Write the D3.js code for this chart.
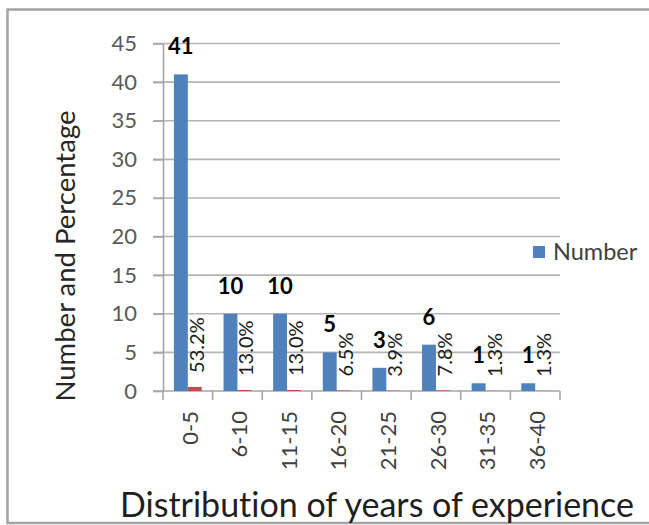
<!DOCTYPE html>
<html>
<head>
<meta charset="utf-8">
<script src="https://cdn.jsdelivr.net/npm/d3@7"></script>
<style>
  html, body { margin: 0; padding: 0; background: #fff; }
  svg, svg text { font-family: Lato, "Open Sans", sans-serif; font-variant-ligatures: none; font-feature-settings: "liga" 0, "clig" 0; }
  svg { display: block; }
</style>
</head>
<body>
<svg id="chart" width="649" height="525"></svg>
<script>
// Years-of-experience groups and the two series plotted against them
const categories = ["0-5", "6-10", "11-15", "16-20", "21-25", "26-30", "31-35", "36-40"];
const numbers = [41, 10, 10, 5, 3, 6, 1, 1];
const percentages = [53.2, 13.0, 13.0, 6.5, 3.9, 7.8, 1.3, 1.3];
const yTicks = [0, 5, 10, 15, 20, 25, 30, 35, 40, 45];

const svg = d3.select("#chart");

// chart frame
svg.append("rect")
  .attr("x", 7.5).attr("y", 9.5)
  .attr("width", 700).attr("height", 513.5)
  .attr("fill", "#fff")
  .attr("stroke", "#a3a3a3")
  .attr("stroke-width", 2.5);

const plot = { left: 163, right: 560, top: 43.5, bottom: 391 };

const x = d3.scaleBand()
  .domain(categories)
  .range([plot.left, plot.right])
  .paddingInner(0).paddingOuter(0);

// bars of a category sit side by side in the middle of its slot
const groupShare = 0.56;
const sub = d3.scaleBand()
  .domain(["number", "percent"])
  .range([x.bandwidth() * (1 - groupShare) / 2, x.bandwidth() * (1 + groupShare) / 2]);

const y = d3.scaleLinear().domain([0, 45]).range([plot.bottom, plot.top]);

// horizontal gridlines
svg.append("g")
  .selectAll("line")
  .data(yTicks.filter(t => t > 0))
  .join("line")
  .attr("x1", plot.left - 10).attr("x2", plot.right)
  .attr("y1", d => y(d)).attr("y2", d => y(d))
  .attr("stroke", "#b5b5b5")
  .attr("stroke-width", 1.6);

// y axis
const yAxis = svg.append("g")
  .attr("transform", `translate(${plot.left},0)`)
  .call(d3.axisLeft(y).tickValues(yTicks).tickSize(10).tickPadding(16).tickSizeOuter(0));
yAxis.select(".domain").attr("stroke", "#a6a6a6").attr("stroke-width", 1.6);
yAxis.selectAll(".tick line").attr("stroke", "#a6a6a6").attr("stroke-width", 1.6);
yAxis.selectAll(".tick text")
  .attr("fill", "#595959")
  .style("font-size", "22px")
  .style("font-family", "Lato, sans-serif");

// x axis with tick marks on the slot boundaries
const xAxisG = svg.append("g").attr("transform", `translate(0,${plot.bottom})`);
xAxisG.append("line")
  .attr("x1", plot.left - 10).attr("x2", plot.right)
  .attr("stroke", "#a6a6a6").attr("stroke-width", 1.6);
const bounds = categories.map(c => x(c)).concat([x(categories[categories.length - 1]) + x.bandwidth()]);
xAxisG.selectAll("line.tick")
  .data(bounds)
  .join("line")
  .attr("class", "tick")
  .attr("x1", d => d).attr("x2", d => d)
  .attr("y1", 0).attr("y2", 9)
  .attr("stroke", "#a6a6a6").attr("stroke-width", 1.6);

// category labels, rotated
xAxisG.selectAll("text")
  .data(categories)
  .join("text")
  .attr("transform", d => `translate(${x(d) + x.bandwidth() / 2 + 2},20) rotate(-90)`)
  .attr("text-anchor", "end")
  .attr("dy", "0.35em")
  .attr("fill", "#404040")
  .style("font-size", "22px")
  .text(d => d);

// number bars
const groups = svg.append("g").selectAll("g")
  .data(categories.map((c, i) => ({ c, n: numbers[i], p: percentages[i] })))
  .join("g")
  .attr("transform", d => `translate(${x(d.c)},0)`);

groups.append("rect")
  .attr("x", sub("number"))
  .attr("width", sub.bandwidth())
  .attr("y", d => y(d.n))
  .attr("height", d => y(0) - y(d.n))
  .attr("fill", "#4f81bd");

// percentage bars share the same axis, as fractions
groups.append("rect")
  .attr("x", sub("percent"))
  .attr("width", sub.bandwidth())
  .attr("y", d => y(d.p / 100))
  .attr("height", d => y(0) - y(d.p / 100))
  .attr("fill", "#c0504d");

// number labels
groups.append("text")
  .attr("x", sub("number") + sub.bandwidth() / 2)
  .attr("y", d => y(d.n) - 20)
  .attr("text-anchor", "middle")
  .attr("fill", "#000")
  .style("font-size", "22px")
  .style("font-weight", "bold")
  .text(d => d.n);

// percentage labels, rotated above the small bars
groups.append("text")
  .attr("transform", d => `translate(${sub("percent") + sub.bandwidth() / 2 + 2},${y(d.p / 100) - 14}) rotate(-90)`)
  .attr("text-anchor", "start")
  .attr("dy", "0.35em")
  .attr("fill", "#1a1a1a")
  .style("font-size", "20px")
  .text(d => d.p.toFixed(1) + "%");

// legend
const legend = svg.append("g").attr("transform", "translate(533,246)");
legend.append("rect").attr("width", 12).attr("height", 12).attr("fill", "#4f81bd");
legend.append("text")
  .attr("x", 20).attr("y", 6).attr("dy", "0.35em")
  .attr("fill", "#404040")
  .style("font-size", "23.5px")
  .text("Number");

// axis titles
svg.append("text")
  .attr("transform", "translate(65,256) rotate(-90)")
  .attr("text-anchor", "middle")
  .attr("dy", "0.35em")
  .attr("fill", "#262626")
  .style("font-size", "27.5px")
  .text("Number and Percentage");

svg.append("text")
  .attr("x", 377).attr("y", 517)
  .attr("text-anchor", "middle")
  .attr("fill", "#1f1f1f")
  .style("font-size", "34px")
  .text("Distribution of years of experience");
</script>
</body>
</html>
